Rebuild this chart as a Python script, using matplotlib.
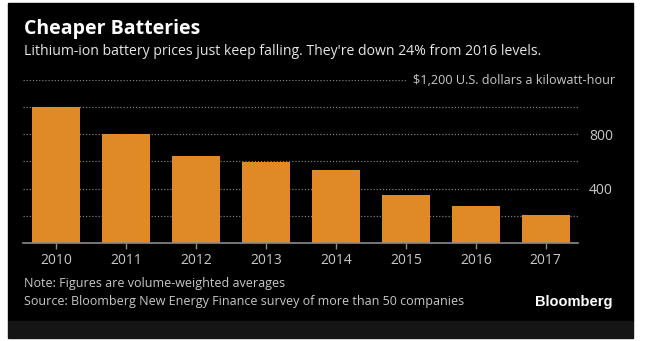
import matplotlib.pyplot as plt
from matplotlib.patches import Rectangle

# Lithium-ion battery pack prices, U.S. dollars per kWh
years = ["2010", "2011", "2012", "2013", "2014", "2015", "2016", "2017"]
prices = [1000, 800, 642, 599, 540, 350, 273, 209]
grid_levels = [200, 400, 600, 800, 1000]
labelled = {400: "400", 800: "800"}

plt.rcParams["font.family"] = ["Open Sans", "DejaVu Sans"]

W, H = 647, 341
fig = plt.figure(figsize=(W / 100, H / 100), dpi=100, facecolor="white")


def fx(px):
    return px / W


def fy(py):
    return (H - py) / H


# black panel and the darker strip under it
fig.patches.append(Rectangle((fx(8), fy(321)), fx(625), 318 / H,
                             transform=fig.transFigure, color="black", zorder=-2))
fig.patches.append(Rectangle((fx(8), fy(338)), fx(625), 17 / H,
                             transform=fig.transFigure, color="#151515", zorder=-2))

ax = fig.add_axes([fx(23), fy(243), fx(578) - fx(23), fy(79.8) - fy(243)])
ax.set_zorder(1)
ax.set_facecolor("none")
ax.set_xlim(-0.47, len(years) - 0.54)
ax.set_ylim(0, 1200)

x = range(len(years))
ax.bar(x, prices, width=0.69, color="#DF8A27", zorder=3)

grid_style = dict(color="#7c7c7c", lw=0.9, linestyle=(0, (1, 1.5)), zorder=1)
for lvl in grid_levels:
    ax.axhline(lvl, **grid_style)
ax.axhline(1200, xmax=0.69, **grid_style)

for s in ["top", "left", "right"]:
    ax.spines[s].set_visible(False)
ax.spines["bottom"].set_color("#8a8a8a")
ax.spines["bottom"].set_linewidth(1.2)
ax.spines["bottom"].set_zorder(4)

ax.set_xticks(list(x))
ax.set_xticklabels(years)
ax.tick_params(axis="x", colors="#8a8a8a", length=4, width=1, pad=3,
               labelcolor="#c8c8c8", labelsize=10)
ax.yaxis.tick_right()
ax.set_yticks(list(labelled.keys()))
ax.set_yticklabels(list(labelled.values()))
ax.tick_params(axis="y", length=0, pad=8, labelcolor="#c8c8c8", labelsize=10)

fig.text(fx(615), fy(80), "$1,200 U.S. dollars a kilowatt-hour",
         ha="right", va="center", color="#c8c8c8", fontsize=9.1)

fig.text(fx(24), fy(34), "Cheaper Batteries", color="white", fontsize=14,
         fontweight="bold", ha="left", va="baseline")
fig.text(fx(24), fy(55), "Lithium-ion battery prices just keep falling. "
         "They're down 24% from 2016 levels.", color="#e6e6e6",
         fontsize=10.1, ha="left", va="baseline")

fig.text(fx(24), fy(284), "Note: Figures are volume-weighted averages",
         color="#c8c8c8", fontsize=9, ha="left", va="center")
fig.text(fx(24), fy(302), "Source: Bloomberg New Energy Finance survey of more than 50 companies",
         color="#c8c8c8", fontsize=9, ha="left", va="center")
fig.text(fx(613), fy(302), "Bloomberg", color="white", fontsize=10.5,
         fontweight="bold", ha="right", va="center", family=["Liberation Sans", "DejaVu Sans"])

fig.savefig("out.png", dpi=100, facecolor="white")
